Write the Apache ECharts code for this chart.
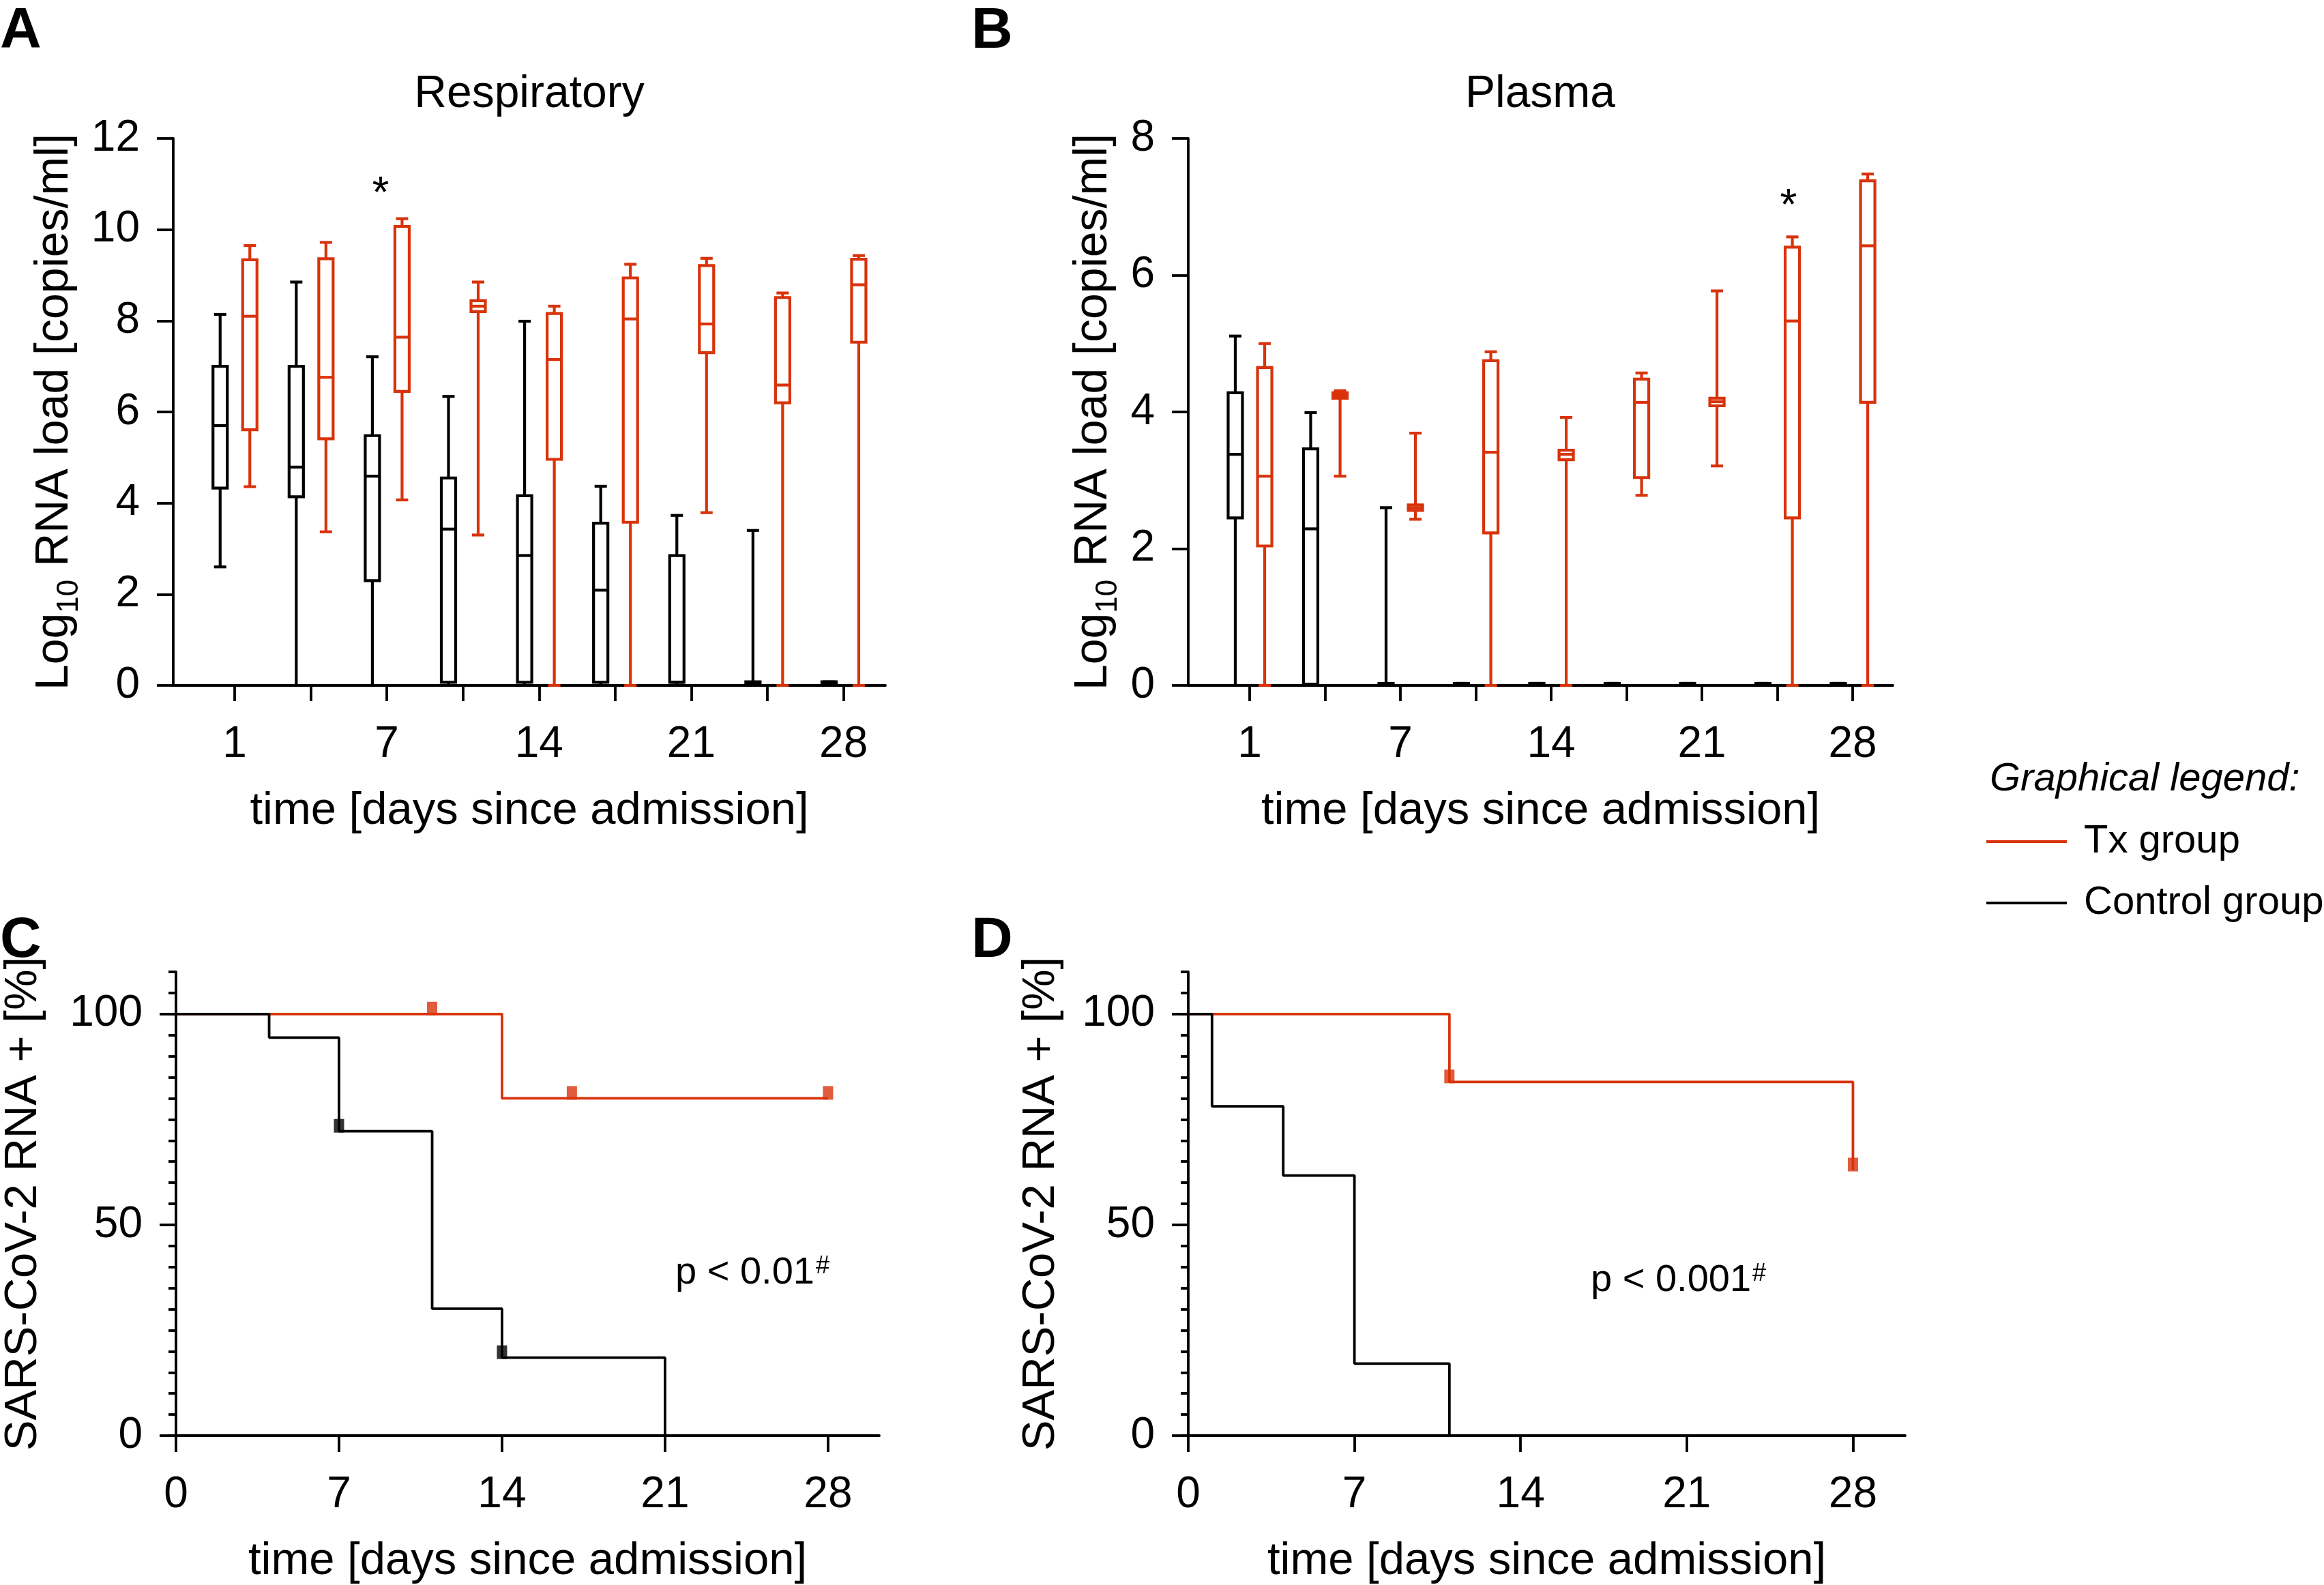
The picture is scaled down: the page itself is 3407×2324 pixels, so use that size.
<!DOCTYPE html>
<html>
<head>
<meta charset="utf-8">
<script src="https://cdn.jsdelivr.net/npm/echarts@6.0.0/dist/echarts.min.js"></script>
<style>
html, body { margin: 0; padding: 0; background: #fff; }
#main { width: 3407px; height: 2324px; }
</style>
</head>
<body>
<div id="main"></div>
<script>
// sampling days for the box plots (only every other one is labelled)
const boxDays = ['1', '4', '7', '10', '14', '17', '21', '24', '28'];
const boxLabelIdx = [0, 2, 4, 6, 8];
const boxTickIdx = [0, 1, 2, 3, 4, 5, 6, 7, 8];

// log10 RNA load, [min, q1, median, q3, max] per day
const respControl = [
  [2.60, 4.33, 5.70, 7.00, 8.14],
  [0, 4.14, 4.79, 7.00, 8.85],
  [0, 2.30, 4.59, 5.48, 7.21],
  [0, 0.07, 3.43, 4.55, 6.34],
  [0, 0.07, 2.85, 4.16, 7.99],
  [0, 0.07, 2.09, 3.56, 4.37],
  [0, 0.07, 0.07, 2.85, 3.73],
  [0, 0.03, 0.05, 0.08, 3.40],
  [0, 0.03, 0.05, 0.08, 0.08]
];
const respTx = [
  [4.36, 5.61, 8.10, 9.34, 9.65],
  [3.37, 5.41, 6.76, 9.36, 9.72],
  [4.07, 6.45, 7.64, 10.07, 10.24],
  [3.30, 8.20, 8.32, 8.44, 8.85],
  [0, 4.96, 7.15, 8.16, 8.32],
  [0, 3.58, 8.04, 8.94, 9.24],
  [3.79, 7.30, 7.93, 9.21, 9.37],
  [0, 6.20, 6.59, 8.51, 8.61],
  [0, 7.53, 8.79, 9.35, 9.43]
];
const plasmaControl = [
  [0, 2.45, 3.38, 4.28, 5.11],
  [0, 0.02, 2.29, 3.46, 3.99],
  [0, 0.01, 0.02, 0.03, 2.60],
  [0, 0.01, 0.02, 0.03, 0.03],
  [0, 0.01, 0.02, 0.03, 0.03],
  [0, 0.01, 0.02, 0.03, 0.03],
  [0, 0.01, 0.02, 0.03, 0.03],
  [0, 0.01, 0.02, 0.03, 0.03],
  [0, 0.01, 0.02, 0.03, 0.03]
];
const plasmaTx = [
  [0, 2.04, 3.06, 4.65, 5.00],
  [3.06, 4.20, 4.24, 4.28, 4.31],
  [2.43, 2.56, 2.60, 2.64, 3.69],
  [0, 2.23, 3.41, 4.75, 4.88],
  [0, 3.30, 3.38, 3.44, 3.92],
  [2.78, 3.04, 4.14, 4.48, 4.57],
  [3.21, 4.09, 4.15, 4.20, 5.77],
  [0, 2.45, 5.33, 6.41, 6.56],
  [0, 4.14, 6.43, 7.38, 7.48]
];

// Kaplan-Meier, [day, % RNA positive]
const respKmControl = [[0, 100], [4, 94.4], [7, 72.2], [11, 30.1], [14, 18.5], [21, 0]];
const respKmTx = [[0, 100], [14, 80], [28, 80]];
const respCensorControl = [[7, 72.2], [14, 18.5]];
const respCensorTx = [[11, 100], [17, 80], [28, 80]];
const plasmaKmControl = [[0, 100], [1, 78.1], [4, 61.7], [7, 17.1], [11, 0]];
const plasmaKmTx = [[0, 100], [11, 83.9], [28, 63]];
const plasmaCensorTx = [[11, 83.9], [28, 63]];

const kmTicks = [0, 7, 14, 21, 28];
const kmLabels = [0, 50, 100];

const RED = '#D8330B';
const BLACK = '#000';
const FONT = '"Liberation Sans", Arial, Helvetica, sans-serif';
const LW = 3.8;
const BOX_LW = 4.2;

function st(color) {
  return { stroke: color, lineWidth: BOX_LW, fill: null };
}

// box + whiskers drawn from the axis scales
function boxRender(offset, color) {
  return function (params, api) {
    const x = api.value(0) + offset;
    const lo = api.coord([x, api.value(1)]);
    const q1 = api.coord([x, api.value(2)]);
    const md = api.coord([x, api.value(3)]);
    const q3 = api.coord([x, api.value(4)]);
    const hi = api.coord([x, api.value(5)]);
    const w = 21, cap = 18, cx = lo[0];
    return {
      type: 'group',
      children: [
        { type: 'line', shape: { x1: cx, y1: hi[1], x2: cx, y2: q3[1] }, style: st(color) },
        { type: 'line', shape: { x1: cx, y1: q1[1], x2: cx, y2: lo[1] }, style: st(color) },
        { type: 'line', shape: { x1: cx - cap / 2, y1: hi[1], x2: cx + cap / 2, y2: hi[1] }, style: st(color) },
        { type: 'line', shape: { x1: cx - cap / 2, y1: lo[1], x2: cx + cap / 2, y2: lo[1] }, style: st(color) },
        { type: 'rect', shape: { x: cx - w / 2, y: q3[1], width: w, height: q1[1] - q3[1] }, style: st(color) },
        { type: 'line', shape: { x1: cx - w / 2, y1: md[1], x2: cx + w / 2, y2: md[1] }, style: st(color) }
      ]
    };
  };
}

function boxSeries(arr, xi, yi, offset, color) {
  return {
    type: 'custom',
    xAxisIndex: xi,
    yAxisIndex: yi,
    renderItem: boxRender(offset, color),
    encode: { x: 0, y: [1, 2, 3, 4, 5] },
    data: arr.map((d, i) => [i].concat(d))
  };
}

const axLine = { show: true, onZero: false, lineStyle: { color: BLACK, width: LW } };
const tickStyle = { color: BLACK, width: LW };
const labelFont = { color: BLACK, fontSize: 64, fontFamily: FONT };
const nameFont = { color: BLACK, fontSize: 67, fontFamily: FONT, lineHeight: 67 };
const xName = 'time [days since admission]';

function boxX(gi, min, max) {
  return {
    gridIndex: gi, type: 'value', min: min, max: max,
    axisLine: axLine,
    axisTick: { show: true, customValues: boxTickIdx, length: 23, lineStyle: tickStyle },
    axisLabel: Object.assign({ customValues: boxLabelIdx, margin: 55, formatter: v => boxDays[v] }, labelFont),
    splitLine: { show: false },
    name: xName, nameLocation: 'middle', nameGap: 151, nameTextStyle: nameFont
  };
}

function kmX(gi) {
  return {
    gridIndex: gi, type: 'value', min: 0, max: 30.2,
    axisLine: axLine,
    axisTick: { show: true, customValues: kmTicks, length: 24, lineStyle: tickStyle },
    axisLabel: Object.assign({ customValues: kmTicks, margin: 55 }, labelFont),
    splitLine: { show: false },
    name: xName, nameLocation: 'middle', nameGap: 151, nameTextStyle: nameFont
  };
}

const logName = '{a|Log}{s|10}{a| RNA load [copies/ml]}';
const logNameStyle = {
  color: BLACK, fontFamily: FONT,
  rich: {
    a: { fontSize: 68, lineHeight: 68, verticalAlign: 'top', fontFamily: FONT, color: BLACK },
    s: { fontSize: 44, lineHeight: 44, verticalAlign: 'top', padding: [34, 0, 0, 0], fontFamily: FONT, color: BLACK }
  }
};

function boxY(gi, max, gap) {
  return {
    gridIndex: gi, type: 'value', min: 0, max: max, interval: 2,
    axisLine: axLine,
    axisTick: { show: true, length: 24, lineStyle: tickStyle },
    axisLabel: Object.assign({ margin: 49 }, labelFont),
    splitLine: { show: false },
    name: logName, nameLocation: 'middle', nameRotate: 90, nameGap: gap, nameTextStyle: logNameStyle
  };
}

function kmY(gi, gap) {
  return [{
    gridIndex: gi, type: 'value', min: 0, max: 110, interval: 5,
    axisLine: axLine,
    axisTick: { show: true, length: 11, lineStyle: tickStyle },
    axisLabel: Object.assign({ customValues: kmLabels, margin: 49 }, labelFont),
    splitLine: { show: false },
    name: 'SARS-CoV-2 RNA + [%]', nameLocation: 'middle', nameRotate: 90, nameGap: gap, nameTextStyle: nameFont
  }, {
    gridIndex: gi, type: 'value', min: 0, max: 110, position: 'left',
    axisLine: { show: false, onZero: false },
    axisTick: { show: true, customValues: kmLabels, length: 24, lineStyle: tickStyle },
    axisLabel: { show: false },
    splitLine: { show: false }
  }];
}

function kmLine(data, xi, yi, color) {
  return {
    type: 'line', xAxisIndex: xi, yAxisIndex: yi, data: data, step: 'end',
    symbol: 'none', showSymbol: false,
    lineStyle: { color: color, width: LW }, itemStyle: { color: color }
  };
}

function censor(data, xi, yi, color) {
  return {
    type: 'scatter', xAxisIndex: xi, yAxisIndex: yi, data: data,
    symbol: 'rect', symbolSize: [15, 20], symbolOffset: [0, -8],
    itemStyle: { color: color }
  };
}

function txt(x, y, text, size, extra) {
  return {
    type: 'text', x: x, y: y, z: 10,
    style: Object.assign({ text: text, fill: BLACK, font: size + 'px ' + FONT, align: 'left', verticalAlign: 'middle' }, extra || {})
  };
}

function pValue(x, y, text) {
  return {
    type: 'text', x: x, y: y, z: 10,
    style: {
      text: '{a|' + text + '}{s|#}', verticalAlign: 'top', align: 'left',
      rich: {
        a: { fontSize: 56, lineHeight: 56, fontFamily: FONT, fill: BLACK, verticalAlign: 'top' },
        s: { fontSize: 36, lineHeight: 36, fontFamily: FONT, fill: BLACK, verticalAlign: 'top', padding: [0, 0, 0, 2] }
      }
    }
  };
}

const chart = echarts.init(document.getElementById('main'));
chart.setOption({
  animation: false,
  backgroundColor: '#fff',
  grid: [
    { left: 254, top: 203, width: 1044, height: 802 },
    { left: 1742, top: 203, width: 1033, height: 802 },
    { left: 254, top: 1425, width: 1035, height: 683 },
    { left: 1742, top: 1425, width: 1051, height: 683 }
  ],
  xAxis: [boxX(0, -0.806, 8.55), boxX(1, -0.814, 8.534), kmX(2), kmX(3)],
  yAxis: [boxY(0, 12, 140), boxY(1, 8, 105)].concat(kmY(2, 190), kmY(3, 182)),
  series: [
    boxSeries(respControl, 0, 0, -0.19, BLACK),
    boxSeries(respTx, 0, 0, 0.2, RED),
    boxSeries(plasmaControl, 1, 1, -0.19, BLACK),
    boxSeries(plasmaTx, 1, 1, 0.2, RED),
    kmLine(respKmTx, 2, 2, RED),
    kmLine(respKmControl, 2, 2, BLACK),
    censor(respCensorTx, 2, 2, RED),
    censor(respCensorControl, 2, 2, BLACK),
    kmLine(plasmaKmTx, 3, 4, RED),
    kmLine(plasmaKmControl, 3, 4, BLACK),
    censor(plasmaCensorTx, 3, 4, RED)
  ],
  graphic: [
    txt(0, 47, 'A', 84, { font: 'bold 84px ' + FONT }),
    txt(1424, 47, 'B', 84, { font: 'bold 84px ' + FONT }),
    txt(0, 1380, 'C', 84, { font: 'bold 84px ' + FONT }),
    txt(1424, 1380, 'D', 84, { font: 'bold 84px ' + FONT }),
    txt(776, 139, 'Respiratory', 66, { align: 'center' }),
    txt(2258, 139, 'Plasma', 66, { align: 'center' }),
    txt(558, 286, '*', 64, { align: 'center' }),
    txt(2622, 304, '*', 64, { align: 'center' }),
    pValue(990, 1839, 'p < 0.01'),
    pValue(2332, 1850, 'p < 0.001'),
    txt(2917, 1143, 'Graphical legend:', 58, { font: 'italic 58px ' + FONT }),
    { type: 'line', z: 10, shape: { x1: 2912, y1: 1234, x2: 3030, y2: 1234 }, style: { stroke: RED, lineWidth: 4 } },
    txt(3055, 1234, 'Tx group', 58),
    { type: 'line', z: 10, shape: { x1: 2912, y1: 1324, x2: 3030, y2: 1324 }, style: { stroke: BLACK, lineWidth: 4 } },
    txt(3055, 1324, 'Control group', 58)
  ]
});
</script>
</body>
</html>
